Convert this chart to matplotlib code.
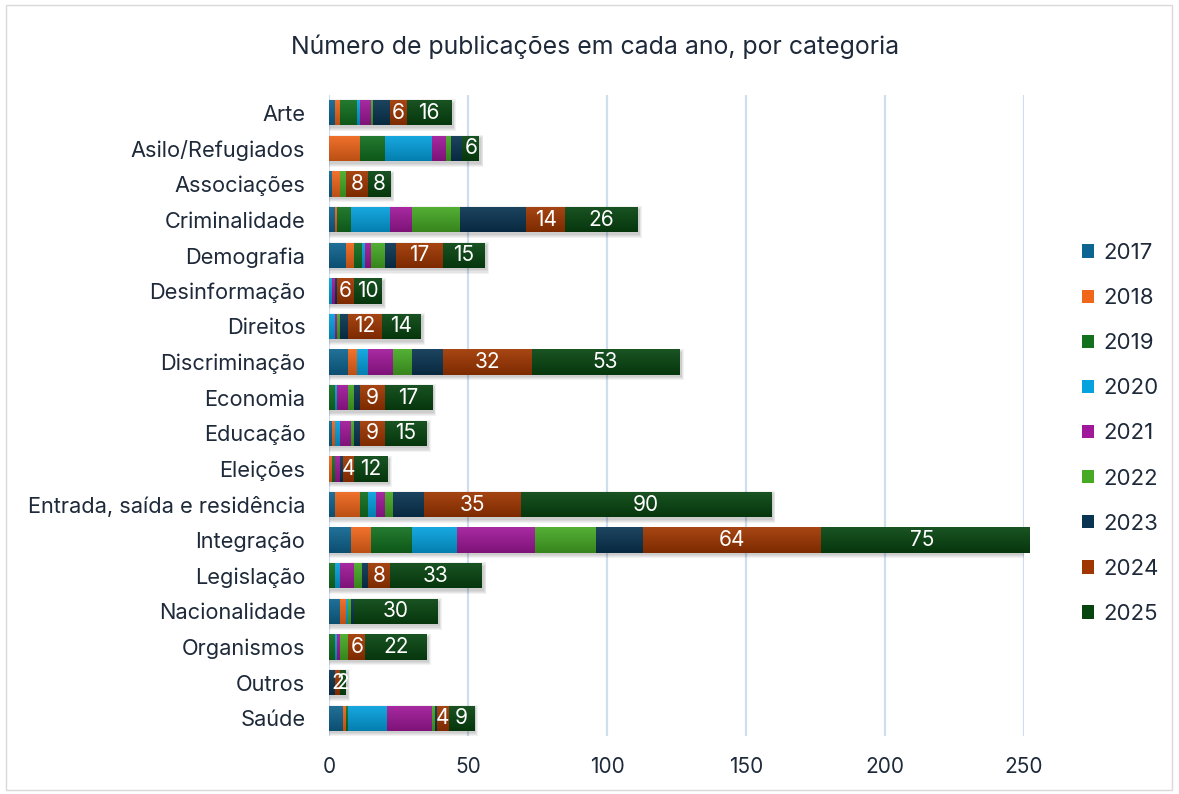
import numpy as np
import matplotlib
matplotlib.use("Agg")
import matplotlib.pyplot as plt
from matplotlib.colors import to_rgb
from matplotlib.patches import Rectangle

plt.rcParams["font.family"] = ["Inter", "DejaVu Sans"]

categories = [
    "Arte", "Asilo/Refugiados", "Associações", "Criminalidade", "Demografia",
    "Desinformação", "Direitos", "Discriminação", "Economia", "Educação",
    "Eleições", "Entrada, saída e residência", "Integração", "Legislação",
    "Nacionalidade", "Organismos", "Outros", "Saúde",
]
years = ["2017", "2018", "2019", "2020", "2021", "2022", "2023", "2024", "2025"]

y2017 = [2, 0, 1, 2, 6, 0, 0, 7, 0, 1, 0, 2, 8, 0, 4, 0, 0, 5]
y2018 = [2, 11, 3, 1, 3, 0, 0, 3, 0, 1, 1, 9, 7, 0, 2, 0, 0, 1]
y2019 = [6, 9, 0, 5, 3, 0, 0, 0, 2, 0, 1, 3, 15, 2, 0, 2, 0, 1]
y2020 = [1, 17, 0, 14, 1, 1, 2, 4, 1, 2, 0, 3, 16, 2, 1, 1, 0, 14]
y2021 = [4, 5, 0, 8, 2, 1, 1, 9, 4, 4, 2, 3, 28, 5, 0, 1, 0, 16]
y2022 = [1, 2, 2, 17, 5, 0, 1, 7, 2, 1, 0, 3, 22, 3, 1, 3, 0, 1]
y2023 = [6, 4, 0, 24, 4, 1, 3, 11, 2, 2, 1, 11, 17, 2, 1, 0, 2, 1]
y2024 = [6, 0, 8, 14, 17, 6, 12, 32, 9, 9, 4, 35, 64, 8, 0, 6, 2, 4]
y2025 = [16, 6, 8, 26, 15, 10, 14, 53, 17, 15, 12, 90, 75, 33, 30, 22, 2, 9]

series = [y2017, y2018, y2019, y2020, y2021, y2022, y2023, y2024, y2025]
labelled_years = ["2024", "2025"]

colors = ["#0F6591", "#F0661A", "#12701F", "#05A2E0", "#A1189A",
          "#46AA24", "#0A3552", "#A03600", "#074510"]

text_color = "#1E2A3A"
grid_color = "#CFDDF0"

W, H = 1179, 794
fig = plt.figure(figsize=(W / 100, H / 100), dpi=100)
fig.patch.set_facecolor("white")

# thin chart-area border
fig.patches.append(Rectangle((6 / W, 4 / H), (W - 13) / W, (H - 9) / H,
                             transform=fig.transFigure, fill=False,
                             edgecolor="#D9D9D9", linewidth=1.0))

ax = fig.add_axes([329 / W, 1 - 736 / H, (1024 - 329) / W, (736 - 95) / H])

n = len(categories)
pos = np.arange(n)
bar_h = 0.71

ax.set_xlim(0, 250)
ax.set_ylim(n - 0.5, -0.5)

# soft drop shadow under each stacked bar
totals = np.sum(np.array(series), axis=0)
for k in range(4):
    grow = 0.03 * k
    ax.barh(pos + 0.07, totals + 0.4 + 0.5 * k, height=bar_h + grow * 2,
            left=0.4 - 0.25 * k, color="#000000", alpha=0.05, linewidth=0,
            zorder=1)


def shade(c, f):
    r, g, b = to_rgb(c)
    if f >= 1:
        return tuple(min(1, v + (1 - v) * (f - 1)) for v in (r, g, b))
    return (r * f, g * f, b * f)


left = np.zeros(n)
containers = []
for yr, vals, col in zip(years, series, colors):
    vals = np.array(vals, dtype=float)
    bc = ax.barh(pos, vals, left=left, height=bar_h, color=col,
                 linewidth=0, zorder=2, label=yr)
    containers.append(bc)
    # vertical gradient fill, clipped to each bar
    top = np.array(shade(col, 1.08))
    bot = np.array(shade(col, 0.78))
    t = np.linspace(0, 1, 64)[:, None]
    grad = top[None, :] * (1 - t) + bot[None, :] * t
    grad = grad[:, None, :]
    for p, v in zip(bc.patches, vals):
        if v <= 0:
            continue
        x0, y0 = p.get_x(), p.get_y()
        w, h = p.get_width(), p.get_height()
        im = ax.imshow(grad, extent=(x0, x0 + w, y0 + h, y0), aspect="auto",
                       interpolation="bilinear", zorder=2.5)
        im.set_clip_path(p)
    if yr in labelled_years:
        labs = [f"{int(v)}" if v > 0 else "" for v in vals]
        ax.bar_label(bc, labels=labs, label_type="center", color="white",
                     fontsize=15, zorder=4)
    left = left + vals

ax.set_xlim(0, 250)
ax.set_ylim(n - 0.5, -0.5)

ax.set_yticks(pos)
ax.set_yticklabels(categories)
ax.set_xticks(np.arange(0, 251, 50))
ax.tick_params(axis="both", length=0, colors=text_color)
ax.tick_params(axis="y", pad=17, labelsize=15.7)
ax.tick_params(axis="x", pad=15, labelsize=15)
for s in ax.spines.values():
    s.set_visible(False)
ax.set_axisbelow(True)
ax.grid(axis="x", color=grid_color, linewidth=1.6, zorder=0)
ax.grid(axis="y", visible=False)

fig.text(595 / W, 1 - 47 / H, "Número de publicações em cada ano, por categoria",
         ha="center", va="center", fontsize=17.9, color=text_color)

handles = [c.patches[0] for c in containers]
fig.legend(handles, years, loc="upper left",
           bbox_to_anchor=(1082 / W, 1 - 243 / H), frameon=False,
           fontsize=16, labelcolor=text_color, handlelength=0.55,
           handleheight=0.55, handletextpad=0.4, labelspacing=1.13,
           borderpad=0, borderaxespad=0)

fig.savefig("out.png", dpi=100)
